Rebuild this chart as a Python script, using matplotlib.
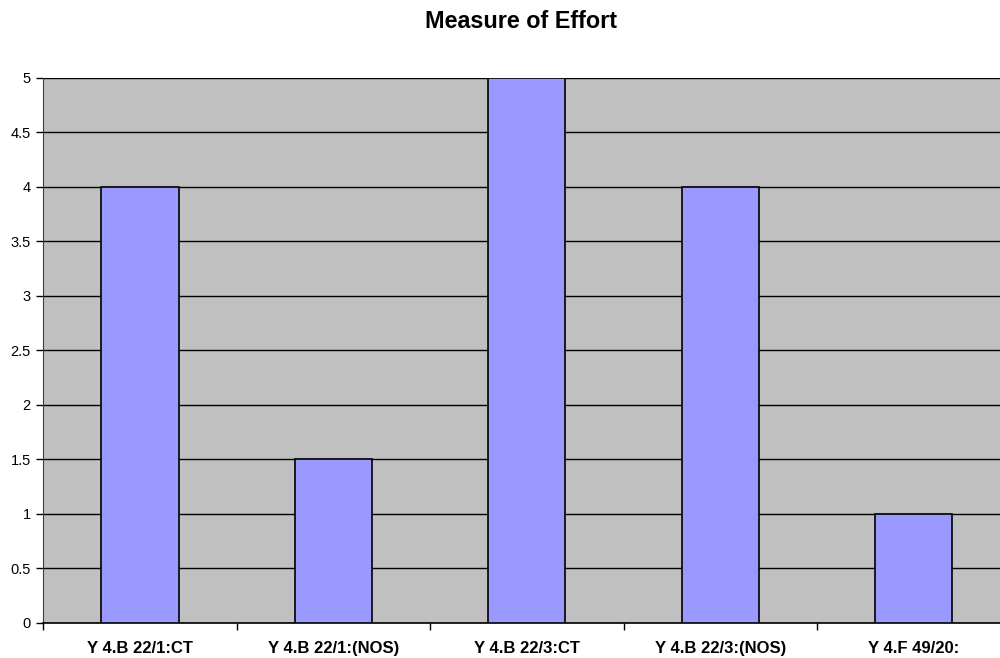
import matplotlib
matplotlib.use("Agg")
import matplotlib.pyplot as plt
import numpy as np

categories = ["Y 4.B 22/1:CT", "Y 4.B 22/1:(NOS)", "Y 4.B 22/3:CT", "Y 4.B 22/3:(NOS)", "Y 4.F 49/20:"]
effort = [4, 1.5, 5, 4, 1]
y_ticks = [0, 0.5, 1, 1.5, 2, 2.5, 3, 3.5, 4, 4.5, 5]

plt.rcParams['font.family'] = ['Liberation Sans', 'DejaVu Sans']

fig = plt.figure(figsize=(10, 6.58), dpi=100)
# plot area runs a little past the right edge of the picture, as in the original
ax = fig.add_axes([0.0433, 0.0532, 0.967, 0.8283])
ax.set_facecolor('#C0C0C0')

x = np.arange(len(categories))
ax.bar(x, effort, width=0.40, color='#9999FF', edgecolor='black', linewidth=1.2, zorder=3)

ax.set_xlim(-0.5, len(categories) - 0.5)
ax.set_ylim(0, 5)
ax.set_yticks(y_ticks)
ax.set_yticklabels([f"{v:g}" for v in y_ticks], fontsize=10.5)
ax.yaxis.grid(True, color='black', linewidth=1, zorder=1)
ax.set_axisbelow(True)

# category labels centred, tick marks between categories
ax.set_xticks(x)
ax.set_xticklabels(categories, fontsize=12, fontweight='bold')
ax.tick_params(axis='x', length=0, pad=13)
ax.set_xticks(np.arange(len(categories) + 1) - 0.5, minor=True)
ax.tick_params(axis='x', which='minor', length=5, width=1, color='black', direction='out')
ax.tick_params(axis='y', length=5, width=1, color='black', direction='out', pad=4)

for s in ['top', 'right']:
    ax.spines[s].set_visible(False)
ax.spines['left'].set_color('#404040')
ax.spines['bottom'].set_color('black')
ax.spines['bottom'].set_linewidth(1.2)

fig.text(0.521, 1 - 28 / 658, "Measure of Effort", fontsize=16.8, fontweight='bold',
         ha='center', va='baseline')

fig.savefig("out.png", dpi=100)
